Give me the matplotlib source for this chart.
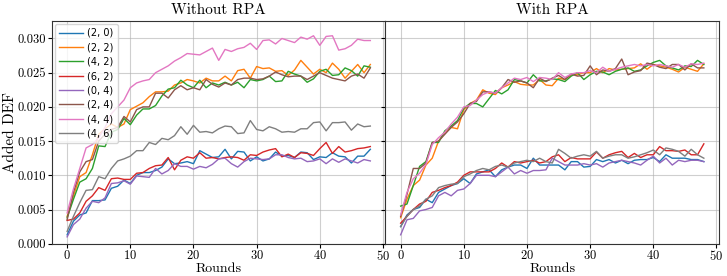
import matplotlib
matplotlib.use("Agg")
import matplotlib.pyplot as plt

plt.rcParams['font.family'] = 'serif'
plt.rcParams['font.serif'] = ['cmr10']
plt.rcParams['mathtext.fontset'] = 'cm'
plt.rcParams['axes.formatter.use_mathtext'] = True

rounds = list(range(49))
labels = ['(2, 0)', '(2, 2)', '(4, 2)', '(6, 2)', '(0, 4)', '(2, 4)', '(4, 4)', '(4, 6)']
colors = ['tab:blue', 'tab:orange', 'tab:green', 'tab:red',
          'tab:purple', 'tab:brown', 'tab:pink', 'tab:gray']

# --- Without RPA ---
wo_2_0 = [0.0013, 0.0033, 0.0042, 0.0045, 0.0063, 0.0063, 0.0064, 0.0081, 0.0084, 0.0093,
          0.0088, 0.0100, 0.0104, 0.0104, 0.0107, 0.0112, 0.0124, 0.0117, 0.0118, 0.0120,
          0.0117, 0.0136, 0.0131, 0.0126, 0.0127, 0.0138, 0.0124, 0.0135, 0.0134, 0.0121,
          0.0127, 0.0121, 0.0124, 0.0134, 0.0128, 0.0129, 0.0126, 0.0134, 0.0133, 0.0123,
          0.0127, 0.0126, 0.0133, 0.0128, 0.0127, 0.0118, 0.0128, 0.0128, 0.0138]
wo_2_2 = [0.0040, 0.0070, 0.0098, 0.0104, 0.0130, 0.0160, 0.0168, 0.0175, 0.0170, 0.0175,
          0.0196, 0.0201, 0.0206, 0.0215, 0.0222, 0.0222, 0.0223, 0.0232, 0.0235, 0.0240,
          0.0238, 0.0235, 0.0242, 0.0238, 0.0238, 0.0245, 0.0238, 0.0253, 0.0255, 0.0242,
          0.0259, 0.0256, 0.0257, 0.0252, 0.0253, 0.0246, 0.0254, 0.0268, 0.0258, 0.0248,
          0.0255, 0.0250, 0.0264, 0.0255, 0.0242, 0.0252, 0.0262, 0.0250, 0.0262]
wo_4_2 = [0.0038, 0.0065, 0.0090, 0.0095, 0.0110, 0.0143, 0.0142, 0.0163, 0.0167, 0.0183,
          0.0174, 0.0188, 0.0197, 0.0197, 0.0202, 0.0216, 0.0226, 0.0228, 0.0239, 0.0232,
          0.0228, 0.0239, 0.0228, 0.0235, 0.0232, 0.0236, 0.0232, 0.0236, 0.0228, 0.0240,
          0.0238, 0.0240, 0.0245, 0.0237, 0.0238, 0.0252, 0.0248, 0.0245, 0.0236, 0.0241,
          0.0252, 0.0255, 0.0246, 0.0247, 0.0257, 0.0253, 0.0245, 0.0260, 0.0258]
wo_6_2 = [0.0034, 0.0036, 0.0045, 0.0062, 0.0070, 0.0082, 0.0078, 0.0095, 0.0096, 0.0094,
          0.0094, 0.0103, 0.0104, 0.0110, 0.0114, 0.0115, 0.0126, 0.0108, 0.0122, 0.0127,
          0.0125, 0.0133, 0.0125, 0.0126, 0.0124, 0.0126, 0.0127, 0.0126, 0.0122, 0.0130,
          0.0129, 0.0134, 0.0137, 0.0139, 0.0127, 0.0131, 0.0126, 0.0133, 0.0132, 0.0129,
          0.0139, 0.0148, 0.0132, 0.0142, 0.0134, 0.0136, 0.0139, 0.0140, 0.0142]
wo_0_4 = [0.0010, 0.0028, 0.0036, 0.0052, 0.0062, 0.0060, 0.0067, 0.0088, 0.0089, 0.0092,
          0.0087, 0.0099, 0.0098, 0.0097, 0.0110, 0.0102, 0.0107, 0.0117, 0.0113, 0.0113,
          0.0109, 0.0113, 0.0111, 0.0116, 0.0124, 0.0125, 0.0117, 0.0112, 0.0120, 0.0125,
          0.0124, 0.0123, 0.0124, 0.0130, 0.0130, 0.0126, 0.0124, 0.0125, 0.0120, 0.0121,
          0.0124, 0.0117, 0.0124, 0.0119, 0.0124, 0.0121, 0.0118, 0.0123, 0.0121]
wo_2_4 = [0.0035, 0.0075, 0.0105, 0.0120, 0.0123, 0.0150, 0.0160, 0.0167, 0.0170, 0.0186,
          0.0178, 0.0196, 0.0200, 0.0200, 0.0220, 0.0220, 0.0213, 0.0225, 0.0231, 0.0225,
          0.0228, 0.0225, 0.0240, 0.0233, 0.0229, 0.0235, 0.0232, 0.0240, 0.0242, 0.0242,
          0.0240, 0.0241, 0.0245, 0.0251, 0.0247, 0.0244, 0.0245, 0.0245, 0.0240, 0.0245,
          0.0250, 0.0246, 0.0242, 0.0240, 0.0238, 0.0245, 0.0248, 0.0242, 0.0257]
wo_4_4 = [0.0045, 0.0080, 0.0110, 0.0140, 0.0145, 0.0155, 0.0170, 0.0190, 0.0200, 0.0210,
          0.0228, 0.0235, 0.0238, 0.0240, 0.0250, 0.0255, 0.0260, 0.0267, 0.0272, 0.0278,
          0.0277, 0.0276, 0.0281, 0.0286, 0.0268, 0.0284, 0.0281, 0.0285, 0.0287, 0.0293,
          0.0284, 0.0297, 0.0298, 0.0292, 0.0300, 0.0297, 0.0294, 0.0302, 0.0299, 0.0304,
          0.0290, 0.0303, 0.0304, 0.0283, 0.0285, 0.0290, 0.0299, 0.0297, 0.0297]
wo_4_6 = [0.0018, 0.0040, 0.0060, 0.0078, 0.0079, 0.0098, 0.0095, 0.0110, 0.0121, 0.0124,
          0.0128, 0.0136, 0.0136, 0.0148, 0.0145, 0.0154, 0.0152, 0.0158, 0.0171, 0.0160,
          0.0173, 0.0163, 0.0164, 0.0162, 0.0168, 0.0172, 0.0171, 0.0161, 0.0162, 0.0180,
          0.0167, 0.0165, 0.0171, 0.0168, 0.0163, 0.0164, 0.0163, 0.0168, 0.0168, 0.0177,
          0.0178, 0.0165, 0.0177, 0.0177, 0.0178, 0.0166, 0.0175, 0.0171, 0.0172]

# --- With RPA ---
w_2_0 = [0.0025, 0.0042, 0.0050, 0.0053, 0.0065, 0.0060, 0.0075, 0.0080, 0.0085, 0.0088,
         0.0095, 0.0088, 0.0102, 0.0105, 0.0108, 0.0098, 0.0108, 0.0112, 0.0115, 0.0115,
         0.0110, 0.0125, 0.0115, 0.0115, 0.0115, 0.0115, 0.0108, 0.0120, 0.0120, 0.0112,
         0.0113, 0.0123, 0.0120, 0.0123, 0.0118, 0.0122, 0.0117, 0.0122, 0.0123, 0.0123,
         0.0126, 0.0120, 0.0130, 0.0125, 0.0125, 0.0125, 0.0123, 0.0123, 0.0120]
w_2_2 = [0.0038, 0.0065, 0.0085, 0.0093, 0.0115, 0.0125, 0.0150, 0.0162, 0.0170, 0.0168,
         0.0196, 0.0205, 0.0210, 0.0225, 0.0220, 0.0218, 0.0228, 0.0232, 0.0237, 0.0233,
         0.0232, 0.0232, 0.0240, 0.0232, 0.0231, 0.0242, 0.0240, 0.0247, 0.0247, 0.0250,
         0.0250, 0.0256, 0.0250, 0.0256, 0.0254, 0.0255, 0.0256, 0.0257, 0.0263, 0.0255,
         0.0262, 0.0260, 0.0258, 0.0255, 0.0251, 0.0258, 0.0255, 0.0252, 0.0263]
w_4_2 = [0.0055, 0.0058, 0.0085, 0.0113, 0.0120, 0.0148, 0.0148, 0.0165, 0.0172, 0.0180,
         0.0198, 0.0205, 0.0205, 0.0200, 0.0212, 0.0224, 0.0219, 0.0225, 0.0240, 0.0238,
         0.0235, 0.0247, 0.0238, 0.0238, 0.0241, 0.0240, 0.0237, 0.0245, 0.0250, 0.0240,
         0.0247, 0.0252, 0.0251, 0.0247, 0.0252, 0.0255, 0.0257, 0.0252, 0.0254, 0.0260,
         0.0265, 0.0268, 0.0260, 0.0257, 0.0254, 0.0260, 0.0259, 0.0268, 0.0262]
w_6_2 = [0.0030, 0.0040, 0.0050, 0.0058, 0.0062, 0.0075, 0.0078, 0.0082, 0.0085, 0.0090,
         0.0100, 0.0105, 0.0105, 0.0105, 0.0105, 0.0110, 0.0118, 0.0112, 0.0120, 0.0118,
         0.0120, 0.0122, 0.0118, 0.0120, 0.0127, 0.0130, 0.0120, 0.0126, 0.0124, 0.0124,
         0.0124, 0.0134, 0.0125, 0.0130, 0.0133, 0.0135, 0.0126, 0.0132, 0.0126, 0.0130,
         0.0130, 0.0142, 0.0136, 0.0136, 0.0135, 0.0137, 0.0130, 0.0130, 0.0146]
w_0_4 = [0.0013, 0.0035, 0.0037, 0.0048, 0.0050, 0.0053, 0.0070, 0.0075, 0.0070, 0.0078,
         0.0080, 0.0088, 0.0100, 0.0100, 0.0100, 0.0098, 0.0105, 0.0112, 0.0102, 0.0107,
         0.0103, 0.0107, 0.0107, 0.0108, 0.0125, 0.0120, 0.0115, 0.0115, 0.0115, 0.0117,
         0.0115, 0.0117, 0.0112, 0.0118, 0.0120, 0.0122, 0.0120, 0.0118, 0.0115, 0.0122,
         0.0128, 0.0118, 0.0125, 0.0115, 0.0122, 0.0120, 0.0122, 0.0122, 0.0120]
w_2_4 = [0.0040, 0.0072, 0.0110, 0.0110, 0.0118, 0.0148, 0.0150, 0.0160, 0.0170, 0.0178,
         0.0190, 0.0205, 0.0208, 0.0222, 0.0222, 0.0220, 0.0228, 0.0240, 0.0236, 0.0238,
         0.0235, 0.0228, 0.0242, 0.0237, 0.0242, 0.0246, 0.0240, 0.0248, 0.0245, 0.0246,
         0.0260, 0.0247, 0.0254, 0.0252, 0.0256, 0.0270, 0.0247, 0.0251, 0.0253, 0.0264,
         0.0262, 0.0258, 0.0256, 0.0262, 0.0262, 0.0254, 0.0263, 0.0257, 0.0257]
w_4_4 = [0.0042, 0.0075, 0.0095, 0.0103, 0.0116, 0.0145, 0.0155, 0.0163, 0.0175, 0.0185,
         0.0200, 0.0202, 0.0210, 0.0218, 0.0222, 0.0220, 0.0228, 0.0235, 0.0242, 0.0240,
         0.0243, 0.0237, 0.0243, 0.0242, 0.0240, 0.0250, 0.0243, 0.0248, 0.0250, 0.0250,
         0.0253, 0.0250, 0.0258, 0.0252, 0.0255, 0.0258, 0.0260, 0.0262, 0.0260, 0.0262,
         0.0260, 0.0262, 0.0260, 0.0258, 0.0262, 0.0258, 0.0263, 0.0262, 0.0264]
w_4_6 = [0.0025, 0.0040, 0.0050, 0.0055, 0.0065, 0.0070, 0.0082, 0.0085, 0.0087, 0.0088,
         0.0098, 0.0102, 0.0107, 0.0110, 0.0108, 0.0113, 0.0115, 0.0112, 0.0118, 0.0120,
         0.0122, 0.0120, 0.0125, 0.0120, 0.0118, 0.0138, 0.0132, 0.0125, 0.0128, 0.0130,
         0.0128, 0.0135, 0.0125, 0.0128, 0.0130, 0.0130, 0.0125, 0.0127, 0.0130, 0.0133,
         0.0137, 0.0130, 0.0140, 0.0138, 0.0135, 0.0128, 0.0138, 0.0130, 0.0125]

without_rpa = [wo_2_0, wo_2_2, wo_4_2, wo_6_2, wo_0_4, wo_2_4, wo_4_4, wo_4_6]
with_rpa = [w_2_0, w_2_2, w_4_2, w_6_2, w_0_4, w_2_4, w_4_4, w_4_6]

fig, axes = plt.subplots(1, 2, figsize=(7.27, 2.76), dpi=100, sharey=True)
fig.subplots_adjust(left=0.0715, right=0.989, top=0.925, bottom=0.117, wspace=0)

for ax, series, title in zip(axes, [without_rpa, with_rpa], ['Without RPA', 'With RPA']):
    for vals, lab, col in zip(series, labels, colors):
        ax.plot(rounds, vals, color=col, lw=1.0, label=lab)
    ax.set_title(title, fontsize=11, pad=4.5)
    ax.set_xlabel('Rounds', fontsize=10)
    ax.xaxis.set_label_coords(0.5, -0.085)
    ax.grid(True, color='#b0b0b0', lw=0.8, alpha=0.6)
    ax.set_xlim(-2.4, 50.4)
    ax.set_xticks([0, 10, 20, 30, 40, 50])
    ax.tick_params(labelsize=9, length=3, pad=1)
    for sp in ax.spines.values():
        sp.set_color('#333333')

axes[0].set_ylim(0, 0.0326)
axes[0].set_yticks([0.0, 0.005, 0.010, 0.015, 0.020, 0.025, 0.030])
axes[0].set_yticklabels(['0.000', '0.005', '0.010', '0.015', '0.020', '0.025', '0.030'])
axes[0].set_ylabel('Added DEF', fontsize=11)
axes[0].yaxis.set_label_coords(-0.104, 0.5)
axes[0].legend(loc='upper left', prop={'family': 'DejaVu Sans', 'size': 7},
               handlelength=2.4, handletextpad=0.5, labelspacing=0.45,
               borderpad=0.45, borderaxespad=0.3)

fig.savefig('out.png', dpi=100)
